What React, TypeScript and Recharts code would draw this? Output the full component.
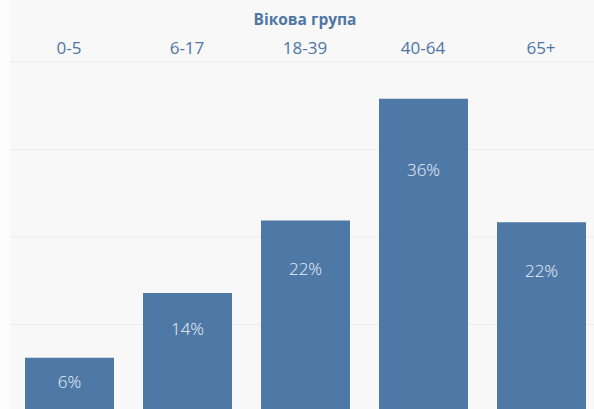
import { BarChart, Bar, XAxis, YAxis, CartesianGrid, LabelList } from 'recharts';

// Вікова група — частка, %
const ageGroups = ['0-5', '6-17', '18-39', '40-64', '65+'];
const shares = [6.2, 13.6, 21.9, 35.8, 21.7];
const yTicks = [0, 10, 20, 30, 40];

const BLUE = '#4e79a7';
const TEXT_BLUE = '#4f75a5';
const FONT = '"Open Sans", "Noto Sans", sans-serif';

const data = ageGroups.map((g, i) => ({ group: g, share: shares[i] }));

// підпис всередині стовпця, трохи нижче верхнього краю
function ValueLabel(props: any) {
  const { x, y, width, height, value } = props;
  const dy = 14 + height * 0.18;
  return (
    <text
      x={x + width / 2}
      y={y + dy}
      textAnchor="middle"
      dominantBaseline="central"
      fill="#eef2f7"
      fontSize={17}
      fontFamily={FONT}
      fontWeight={300}
    >
      {`${Math.round(value)}%`}
    </text>
  );
}

export default function App() {
  return (
    <div
      style={{
        position: 'fixed', top: 0, left: 0, width: 594, height: 409,
        overflow: 'hidden', background: '#f8f8f8', fontFamily: FONT,
      }}
    >
      <div style={{ position: 'absolute', left: 0, top: 0, width: 10, height: 409, background: '#fcfcfc' }} />
      <div
        style={{
          position: 'absolute', left: 10, width: 590, top: 8, textAlign: 'center',
          color: TEXT_BLUE, fontWeight: 700, fontSize: 15.5, lineHeight: '22px',
        }}
      >
        Вікова група
      </div>
      <div style={{ position: 'absolute', left: 0, top: 0 }}>
        <BarChart
          width={600}
          height={420}
          data={data}
          margin={{ top: 32, right: 0, left: 10, bottom: 8 }}
        >
          <CartesianGrid vertical={false} stroke="#ebebeb" />
          <XAxis
            dataKey="group"
            orientation="top"
            height={30}
            axisLine={false}
            tickLine={false}
            tick={{ fill: TEXT_BLUE, fontSize: 17, fontFamily: FONT }}
            interval={0}
          />
          <YAxis hide domain={[0, 40]} ticks={yTicks} />
          <Bar dataKey="share" fill={BLUE} barSize={89} isAnimationActive={false}>
            <LabelList dataKey="share" content={<ValueLabel />} />
          </Bar>
        </BarChart>
      </div>
    </div>
  );
}
